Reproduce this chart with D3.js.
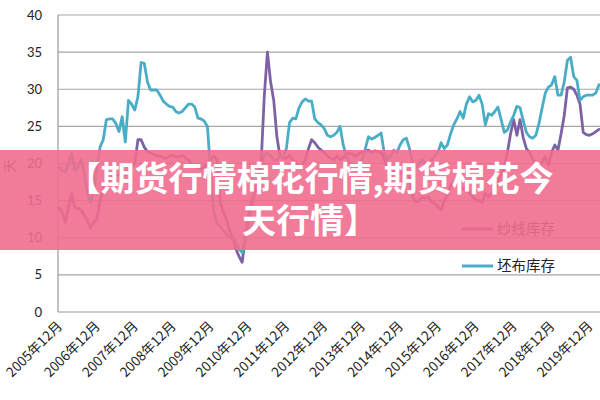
<!DOCTYPE html>
<html><head><meta charset="utf-8">
<script src="https://cdn.jsdelivr.net/npm/d3@7"></script>
<style>body{margin:0;background:#fff;overflow:hidden}</style>
</head><body>
<svg id="c" width="600" height="400"></svg>
<script>
// ---- data ----
const tickLabels = ["2005年12月","2006年12月","2007年12月","2008年12月","2009年12月","2010年12月","2011年12月","2012年12月","2013年12月","2014年12月","2015年12月","2016年12月","2017年12月","2018年12月","2019年12月"];
const yTicks = [0,5,10,15,20,25,30,35,40];
const seriesNames = ["纱线库存","坯布库存"];
// monthly, 2005-12 .. 2020-03
const yarnStock = [14,13.5,12.1,14,16,14,14,13.7,13,12.3,11.3,12.1,12.5,15,16.5,17.8,17.8,18.2,18.5,18.5,19,18.5,19,19.5,20,23.2,23.2,22.2,21.6,21.4,21.2,21.1,21,20.8,20.7,21,21.1,20.9,20.9,21.1,20.8,20.5,20,19.5,19.5,19.3,19.5,20,20.5,21,20.5,15,13.5,12.5,11,10,8.5,7.5,6.7,10,13,15,16,17,20,29,35,31,28.5,23.6,20.9,20.8,20.7,21.1,20.5,20,19.5,19.8,20.5,22,23.2,22.8,22.2,21.8,21.5,21,20.7,20.5,21,20.5,20.8,21.2,21.4,21.2,21,21.3,21.5,21.6,21.8,21.5,21.7,21.6,21.5,20.5,19.5,18.9,18.8,18.9,18.7,18.8,19.2,18,15.5,14.8,15,15.5,15.3,15.5,14.8,14.6,14.2,13.7,15,15.8,17,17.5,17.3,17,16.5,16.8,16,15.5,15.1,15,14.7,16,15.5,16,16.5,17.5,18.5,19.5,21.5,24,25.9,23.8,25.9,23.5,22,21.5,20.5,20.2,19.7,20.2,20.9,19.8,21.5,22.5,21.8,24,26.5,30.2,30.3,30,29.2,28,24.2,23.9,23.8,24,24.3,24.6];
const greyClothStock = [19.5,19,18.9,20,21.4,19.1,19.5,20.5,18.7,16,14.7,16.5,19.5,22.2,23.2,25.9,26,26,25.4,24.3,26.3,22.9,28.5,28,27.2,29,33.6,33.5,31,29.9,29.9,29.9,29.2,28.4,28,27.7,27.6,27,26.8,27,27.5,28,28,27.6,26.1,26,25.7,25,19,13.5,12,11.5,11,10.5,10,10,9.5,8.5,8,9.5,12,14,16,18,20,21,21.5,21,20.5,20.5,21,21,22,25.5,26.1,26,27.5,28.3,28.7,28.4,28.4,26,25.5,25.2,24.7,23.8,23.6,23.8,24.2,25,22.5,21,20,19.7,19.5,20,20.5,22,23.6,23.3,23.5,23.8,24.1,21.4,20.5,21,21.8,21.5,22.5,23.2,23.4,22,20,19.5,20,20.5,20,19.5,20.5,21,21.5,22.8,22,22.5,24,25.2,26,27,26.1,28,29,28.3,28.5,29.2,28,25.2,26.7,26.5,27,27.6,25.9,24.2,24.5,25.6,26.5,27.7,27.5,25.8,24.2,23.6,23.4,23.8,25.4,27.5,29.5,30.3,30.6,31.7,29.2,29.2,31,33.9,34.3,31.7,31.2,28.5,29,29.2,29.2,29.2,29.5,30.6];
const titleLines = ["【期货行情棉花行情,期货棉花今","天行情】"];

// ---- build month categories ----
const months = [];
for (let i = 0; i < yarnStock.length; i++) {
  const t = 2005*12 + 11 + i;
  months.push(Math.floor(t/12) + "年" + (t%12+1) + "月");
}

const svg = d3.select("#c");
const x = d3.scalePoint().domain(months).range([59, 599]);
const y = d3.scaleLinear().domain([0, 40]).range([312, 15]);
const colors = ["#7f62a5", "#4aadc6"];

// gridlines
svg.append("g").selectAll("line").data(yTicks.filter(d => d > 0)).join("line")
  .attr("x1", 58).attr("x2", 600).attr("y1", d => y(d)).attr("y2", d => y(d))
  .attr("stroke", "#a6a6a6").attr("stroke-width", 1.2);
// axes lines
svg.append("line").attr("x1", 58).attr("x2", 58).attr("y1", y(40)).attr("y2", y(0)).attr("stroke", "#9a9a9a").attr("stroke-width", 1.2);
svg.append("line").attr("x1", 58).attr("x2", 600).attr("y1", y(0)).attr("y2", y(0)).attr("stroke", "#9a9a9a").attr("stroke-width", 1.2);

// y tick labels
svg.append("g").selectAll("text").data(yTicks).join("text")
  .attr("x", 42).attr("y", d => y(d)).attr("dy", "0.35em")
  .attr("text-anchor", "end").attr("font-family", "Lato, 'Open Sans', sans-serif")
  .attr("font-size", 13).attr("fill", "#222").text(d => d);

// y title fragment
svg.append("text").attr("transform", "translate(9,166) rotate(-90)")
  .attr("text-anchor", "middle").attr("dy", "0.35em")
  .attr("font-family", "'Noto Sans CJK SC', sans-serif").attr("font-size", 13).attr("fill", "#222").text("天");

// x tick labels
svg.append("g").selectAll("text").data(tickLabels).join("text")
  .attr("transform", d => `translate(${x(d.slice(0,4) + "年12月") + 4},${327}) rotate(-45)`)
  .attr("text-anchor", "end")
  .attr("font-family", "'Noto Sans CJK SC', sans-serif").attr("font-size", 13.5).attr("fill", "#222")
  .text(d => d);

// lines
const line = d3.line().x((d, i) => x(months[i])).y(d => y(d));
[yarnStock, greyClothStock].forEach((s, k) => {
  svg.append("path").datum(s).attr("d", line)
    .attr("fill", "none").attr("stroke", colors[k]).attr("stroke-width", 2.8)
    .attr("stroke-linejoin", "round").attr("stroke-linecap", "round");
});

// legend
const lg = svg.append("g");
seriesNames.forEach((n, k) => {
  const ly = 229 + k * 37;
  lg.append("line").attr("x1", 462).attr("x2", 493).attr("y1", ly).attr("y2", ly)
    .attr("stroke", colors[k]).attr("stroke-width", 3);
  lg.append("text").attr("x", 497).attr("y", ly).attr("dy", "0.36em")
    .attr("font-family", "'Noto Sans CJK SC', sans-serif").attr("font-size", 14.5).attr("fill", "#222").text(n);
});

// banner overlay
svg.append("rect").attr("x", 0).attr("y", 150).attr("width", 600).attr("height", 100)
  .attr("fill", "#ef6d8d").attr("opacity", 0.9);
const title = svg.append("text")
  .attr("text-anchor", "middle").attr("font-family", "'Noto Sans CJK SC', sans-serif")
  .attr("font-weight", 700).attr("font-size", 34).attr("fill", "#fff");
title.selectAll("tspan").data(titleLines).join("tspan")
  .attr("x", 310).attr("y", (d, i) => 191 + i * 42).text(d => d);
</script>
</body></html>
